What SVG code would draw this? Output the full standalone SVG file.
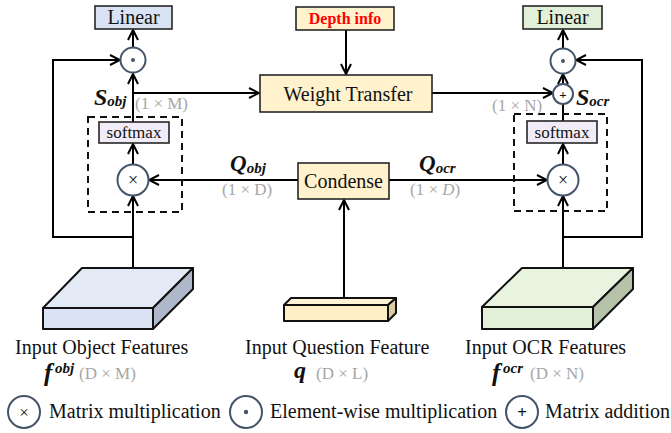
<svg xmlns="http://www.w3.org/2000/svg" width="671" height="433" viewBox="0 0 671 433">
  <defs>
    <marker id="arrow" viewBox="0 0 12 12" refX="11" refY="6" markerWidth="12" markerHeight="12" markerUnits="userSpaceOnUse" orient="auto">
      <path d="M1,1 L11,6 L1,11" fill="none" stroke="#000" stroke-width="2"/>
    </marker>
  </defs>
  <style>
    text { font-family: "Liberation Serif", "Times New Roman", serif; fill: #111; }
    .box { stroke: #262626; stroke-width: 1.6; }
    .blue { fill: #dae3f3; }
    .green { fill: #e2f0d9; }
    .cream { fill: #fff2cc; }
    .lav { fill: #f1ecf7; }
    .op { fill: #fff; stroke: #44546a; stroke-width: 2; }
    .lbl { font-size: 20px; }
    .sm { font-size: 17px; }
    .dim { font-size: 17px; fill: #a6a6a6; }
    .sym { font-weight: bold; font-style: italic; }
    .dash { fill: none; stroke: #111; stroke-width: 2; stroke-dasharray: 7 5; }
    .wire { fill: none; stroke: #000; stroke-width: 2; }
    .slab { stroke: #111; stroke-width: 2; stroke-linejoin: round; }
  </style>

  <!-- connectors -->
  <g id="connectors" class="wire">
    <!-- object branch -->
    <path d="M133,268 V196" marker-end="url(#arrow)"/>
    <path d="M133,237 H53 V60 H120" marker-end="url(#arrow)"/>
    <path d="M133,165 V144" marker-end="url(#arrow)"/>
    <path d="M133,122 V74" marker-end="url(#arrow)"/>
    <path d="M133,93 H259" marker-end="url(#arrow)"/>
    <path d="M133,48 V30" marker-end="url(#arrow)"/>
    <path d="M298,180 H149" marker-end="url(#arrow)"/>
    <!-- centre -->
    <path d="M346,30 V74" marker-end="url(#arrow)"/>
    <path d="M344,298 V200" marker-end="url(#arrow)"/>
    <!-- OCR branch -->
    <path d="M389,180 H547" marker-end="url(#arrow)"/>
    <path d="M432,93 H553" marker-end="url(#arrow)"/>
    <path d="M563,268 V196" marker-end="url(#arrow)"/>
    <path d="M563,165 V144" marker-end="url(#arrow)"/>
    <path d="M563,121 V104"/>
    <path d="M563,84 V74" marker-end="url(#arrow)"/>
    <path d="M563,48 V30" marker-end="url(#arrow)"/>
    <path d="M563,237 H642 V60 H576" marker-end="url(#arrow)"/>
  </g>

  <!-- dashed attention blocks -->
  <rect class="dash" x="88" y="117" width="94" height="95"/>
  <rect class="dash" x="514" y="114" width="93" height="97"/>

  <!-- object branch nodes -->
  <g id="linear-obj">
    <rect class="box blue" x="95" y="6" width="77" height="23"/>
    <text class="lbl" x="133.5" y="24" text-anchor="middle">Linear</text>
  </g>
  <g id="mul-obj">
    <circle class="op" cx="133" cy="60" r="12.5"/>
    <circle cx="133" cy="60" r="2" fill="#44546a"/>
  </g>
  <g id="softmax-obj">
    <rect class="box lav" x="99" y="122" width="70" height="21"/>
    <text class="sm" x="134" y="138" text-anchor="middle">softmax</text>
  </g>
  <g id="matmul-obj">
    <circle class="op" cx="133" cy="180" r="15.5"/>
    <text x="133" y="186" font-size="18" text-anchor="middle">×</text>
  </g>
  <g id="label-sobj">
    <text class="sym" x="94" y="105" font-size="24">S<tspan font-size="15" dy="1">obj</tspan></text>
    <text class="dim" x="135" y="109">(1 × M)</text>
  </g>
  <g id="label-qobj">
    <text class="sym" x="230" y="171" font-size="23">Q<tspan font-size="15" dy="2">obj</tspan></text>
    <text class="dim" x="222" y="195">(1 × D)</text>
  </g>

  <!-- centre nodes -->
  <g id="depth-info">
    <rect class="box cream" x="296" y="7" width="98" height="23"/>
    <text x="345" y="24" font-size="16" font-weight="bold" style="fill:#ff0000" text-anchor="middle">Depth info</text>
  </g>
  <g id="weight-transfer">
    <rect class="box cream" x="260" y="75" width="172" height="37"/>
    <text class="lbl" x="348" y="101" text-anchor="middle">Weight Transfer</text>
  </g>
  <g id="condense">
    <rect class="box cream" x="298" y="163" width="91" height="36"/>
    <text class="lbl" x="343.5" y="188" text-anchor="middle">Condense</text>
  </g>

  <!-- OCR branch nodes -->
  <g id="linear-ocr">
    <rect class="box green" x="523" y="6" width="79" height="23"/>
    <text class="lbl" x="562.5" y="24" text-anchor="middle">Linear</text>
  </g>
  <g id="mul-ocr">
    <circle class="op" cx="563" cy="61" r="12.5"/>
    <circle cx="563" cy="61" r="2" fill="#44546a"/>
  </g>
  <g id="add-ocr">
    <circle class="op" cx="563" cy="94" r="10"/>
    <text x="563" y="98.5" font-size="13" font-weight="bold" text-anchor="middle">+</text>
  </g>
  <g id="softmax-ocr">
    <rect class="box lav" x="527" y="121" width="70" height="22"/>
    <text class="sm" x="562" y="138" text-anchor="middle">softmax</text>
  </g>
  <g id="matmul-ocr">
    <circle class="op" cx="563" cy="180" r="15.5"/>
    <text x="563" y="186" font-size="18" text-anchor="middle">×</text>
  </g>
  <g id="label-socr">
    <text class="sym" x="576" y="105" font-size="24">S<tspan font-size="15" dy="1">ocr</tspan></text>
    <text class="dim" x="492" y="111">(1 × N)</text>
  </g>
  <g id="label-qocr">
    <text class="sym" x="419" y="171" font-size="23">Q<tspan font-size="15" dy="2">ocr</tspan></text>
    <text class="dim" x="410" y="195">(1 × <tspan font-style="italic">D</tspan>)</text>
  </g>

  <!-- input feature slabs -->
  <g id="input-obj">
    <polygon class="slab" points="43,308 82,268 193,268 153,308" fill="#e3e9f5"/>
    <polygon class="slab" points="153,308 193,268 193,289 153,329" fill="#adb9ca"/>
    <rect class="slab" x="43" y="308" width="110" height="21" fill="#dae3f3"/>
    <text class="lbl" x="15" y="354">Input Object Features</text>
    <text class="sym" x="44" y="381" font-size="25">f</text>
    <text class="sym" x="55" y="373" font-size="15">obj</text>
    <text class="dim" x="79" y="379">(D × M)</text>
  </g>
  <g id="input-question">
    <polygon class="slab" points="284,305 291,298 396,298 388,305" fill="#fff5d6"/>
    <polygon class="slab" points="388,305 396,298 396,313 388,321" fill="#d9cc9f"/>
    <rect class="slab" x="284" y="305" width="104" height="16" fill="#ffefc6"/>
    <text class="lbl" x="245" y="354">Input Question Feature</text>
    <text class="sym" x="294" y="378" font-size="24">q</text>
    <text class="dim" x="316" y="379">(D × L)</text>
  </g>
  <g id="input-ocr">
    <polygon class="slab" points="482,307 522,268 633,268 593,307" fill="#e8f3e0"/>
    <polygon class="slab" points="593,307 633,268 633,289 593,329" fill="#b5c3a8"/>
    <rect class="slab" x="482" y="307" width="111" height="22" fill="#e2f0d9"/>
    <text class="lbl" x="465" y="354">Input OCR Features</text>
    <text class="sym" x="492" y="381" font-size="25">f</text>
    <text class="sym" x="503" y="373" font-size="15">ocr</text>
    <text class="dim" x="530" y="379">(D × N)</text>
  </g>

  <!-- legend -->
  <g id="legend">
    <circle class="op" cx="24" cy="412" r="16"/>
    <text x="24" y="418" font-size="17" text-anchor="middle">×</text>
    <text class="lbl" x="49" y="418">Matrix multiplication</text>
    <circle class="op" cx="246" cy="412" r="16"/>
    <circle cx="246" cy="412" r="2.2" fill="#44546a"/>
    <text class="lbl" x="270" y="418">Element-wise multiplication</text>
    <circle class="op" cx="522" cy="412" r="16"/>
    <text x="522" y="418" font-size="17" font-weight="bold" text-anchor="middle">+</text>
    <text class="lbl" x="545" y="418">Matrix addition</text>
  </g>
</svg>
